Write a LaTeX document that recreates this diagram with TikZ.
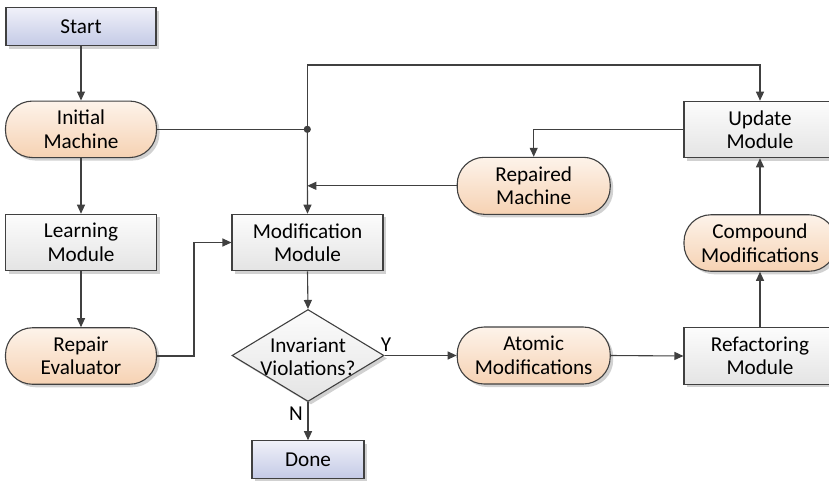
\documentclass[tikz,border=0pt]{standalone}
\usepackage{fontspec}
\setmainfont{Carlito}
\usetikzlibrary{arrows.meta,shapes.geometric,shadows}
\definecolor{edge}{HTML}{404040}
\definecolor{boxtop}{HTML}{FCFCFC}
\definecolor{boxbot}{HTML}{E4E4E4}
\definecolor{stadtop}{HTML}{FDF3EA}
\definecolor{stadbot}{HTML}{F6D2B3}
\definecolor{termtop}{HTML}{F0F1F9}
\definecolor{termbot}{HTML}{C4CAE6}
\tikzset{
  base/.style={draw=edge, line width=1.1pt, inner sep=0pt, align=center,
    font=\fontsize{21.2}{23.5}\selectfont, text=black,
    drop shadow={shadow xshift=3pt, shadow yshift=-3pt, opacity=0.18, fill=black}},
  module/.style={base, rectangle, top color=boxtop, bottom color=boxbot,
    minimum width=151pt, minimum height=56.5pt},
  terminal/.style={base, rectangle, top color=termtop, bottom color=termbot,
    minimum height=38pt},
  stadium/.style={base, rectangle, rounded corners=27pt, top color=stadtop, bottom color=stadbot,
    minimum width=152pt, minimum height=56.5pt},
  decision/.style={base, diamond, top color=boxtop, bottom color=boxbot,
    minimum width=152pt, minimum height=92pt},
  txt/.style={align=center, font=\fontsize{21.2}{23.5}\selectfont, inner sep=0pt},
  conn/.style={draw=edge, line width=1.1pt, -{Triangle[length=9pt,width=8pt]}},
  plain/.style={draw=edge, line width=1.1pt},
}
\begin{document}
\begin{tikzpicture}[x=1pt,y=-1pt]
\useasboundingbox (0,0) rectangle (829,483);
\clip (0,0) rectangle (829,483);
\fill[white] (0,0) rectangle (829,483);

\node[terminal, minimum width=150pt] (start) at (81,26.5) {Start};
\node[stadium, minimum width=151pt] (init) at (81,129.3) {Initial\\Machine};
\node[module] (learn) at (81,242.5) {Learning\\Module};
\node[stadium, minimum width=151pt] (repeval) at (81,356) {Repair\\Evaluator};
\node[module] (modmod) at (307.5,242.5) {Modification\\Module};
\node[decision] (dec) at (308,355.5) {};
\node[txt] (dectxt) at (308,357) {Invariant\\Violations?};
\node[terminal, minimum width=112pt, minimum height=37.5pt] (done) at (308,459.5) {Done};
\node[stadium, minimum width=153pt, minimum height=57pt] (repaired) at (533.7,185.8) {Repaired\\Machine};
\node[stadium, minimum width=153pt, minimum height=57pt] (atomic) at (533.7,355.5) {Atomic\\Modifications};
\node[module, minimum width=152pt] (update) at (760,129.5) {Update\\Module};
\node[stadium] (compound) at (760,243) {Compound\\Modifications};
\node[module, minimum width=152pt] (refac) at (760,356) {Refactoring\\Module};

\coordinate (junc) at (307.3,129.3);
\coordinate (topl) at (307.3,65);
\coordinate (topr) at (760,65);
\coordinate (rjoin) at (307.3,185.8);
\coordinate (evalup) at (194,356);
\coordinate (evaltop) at (194,242.5);
\coordinate (updl) at (533.7,129.5);

\draw[conn] (start) -- (init);
\draw[conn] (init) -- (learn);
\draw[conn] (learn) -- (repeval);
\draw[plain] (init.east) -- (junc);
\fill[edge] (junc) circle (3.6pt);
\draw[conn] (junc) -- (modmod.north);
\draw[conn] (junc) -- (topl) -- (topr) -- (update.north);
\draw[conn] (repeval.east) -- (evalup) -- (evaltop) -- (modmod.west);
\draw[conn] (update.west) -- (updl) -- (repaired.north);
\draw[conn] (repaired.west) -- (rjoin);
\draw[conn] (modmod.south) -- (dec.north);
\draw[conn] (dec.east) -- (atomic.west);
\draw[conn] (dec.south) -- (done.north);
\draw[conn] (atomic.east) -- (refac.west);
\draw[conn] (refac.north) -- (compound.south);
\draw[conn] (compound.north) -- (update.south);

\node[txt] (ylab) at (386,345) {Y};
\node[txt] (nlab) at (296,414) {N};
\end{tikzpicture}
\end{document}
